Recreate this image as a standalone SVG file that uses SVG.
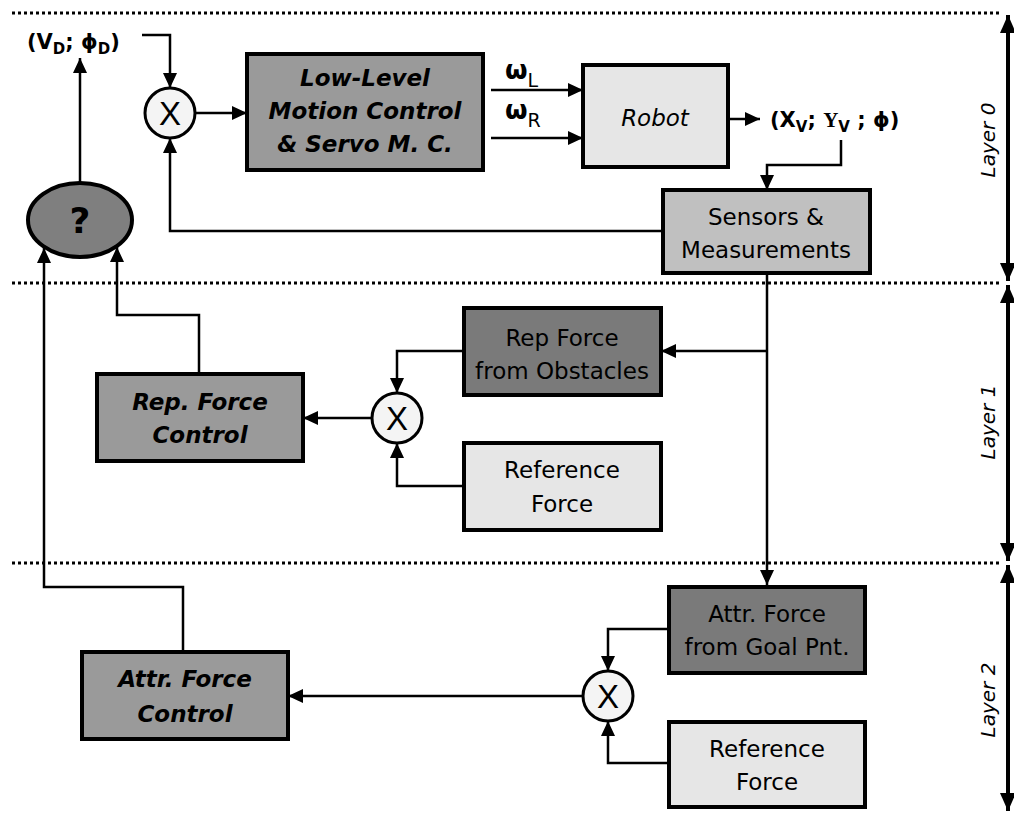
<svg xmlns="http://www.w3.org/2000/svg" width="1014" height="813" viewBox="0 0 1014 813">
<defs>
<marker id="ah" markerUnits="userSpaceOnUse" markerWidth="15" markerHeight="14" refX="15" refY="7" orient="auto">
<path d="M0,0 L15,7 L0,14 z" fill="#000"/>
</marker>
<marker id="ahb" markerUnits="userSpaceOnUse" markerWidth="18" markerHeight="16" refX="18" refY="8" orient="auto-start-reverse">
<path d="M0,0 L18,8 L0,16 z" fill="#000"/>
</marker>
<style>
.box{stroke:#000;stroke-width:4}
.dark{fill:#7a7a7a}
.mid{fill:#9a9a9a}
.light{fill:#e6e6e6}
.sens{fill:#c0c0c0}
.sum{fill:#f4f4f4;stroke:#000;stroke-width:3}
.c{fill:none;stroke:#000;stroke-width:2.5;marker-end:url(#ah)}
.dot{stroke:#000;stroke-width:3;stroke-dasharray:3 3}
.lay{stroke:#000;stroke-width:4;marker-start:url(#ahb);marker-end:url(#ahb)}
text{font-family:"DejaVu Sans","Liberation Sans",sans-serif;fill:#000}
.bi{font-weight:bold;font-style:italic;font-size:23px;text-anchor:middle}
.n{font-size:23px;text-anchor:middle}
.x{font-family:"Liberation Sans",sans-serif;font-size:33px;text-anchor:middle}
.lt{font-style:italic;font-size:20px;text-anchor:middle}
.b{font-weight:bold;font-size:21px}
</style>
</defs>

<g id="layers">
<line class="dot" x1="12" y1="13" x2="1002" y2="13"/>
<line class="dot" x1="12" y1="283" x2="1002" y2="283"/>
<line class="dot" x1="12" y1="563" x2="1002" y2="563"/>
<line class="lay" x1="1008" y1="15" x2="1008" y2="281"/>
<line class="lay" x1="1008" y1="285" x2="1008" y2="561"/>
<line class="lay" x1="1008" y1="565" x2="1008" y2="811"/>
<text class="lt" transform="translate(995,140) rotate(-90)">Layer 0</text>
<text class="lt" transform="translate(995,422) rotate(-90)">Layer 1</text>
<text class="lt" transform="translate(995,700) rotate(-90)">Layer 2</text>
</g>

<g id="connectors">
<path class="c" d="M80,182 L80,58"/>
<path class="c" d="M142,35 L170,35 L170,88"/>
<path class="c" d="M195,113 L247,113"/>
<path class="c" d="M491,90 L583,90"/>
<path class="c" d="M491,138 L583,138"/>
<path class="c" d="M728,119 L760,119"/>
<path class="c" d="M841,140 L841,165 L767,165 L767,190"/>
<path class="c" d="M663,231 L170,231 L170,138"/>
<path class="c" d="M767,273 L767,585"/>
<path class="c" d="M767,351 L661,351"/>
<path class="c" d="M464,351 L397,351 L397,393"/>
<path class="c" d="M464,486 L397,486 L397,443"/>
<path class="c" d="M372,418 L303,418"/>
<path class="c" d="M199,374 L199,315 L117,315 L117,247"/>
<path class="c" d="M183,652 L183,587 L44,587 L44,248"/>
<path class="c" d="M669,629 L608,629 L608,671"/>
<path class="c" d="M669,763 L608,763 L608,721"/>
<path class="c" d="M583,696 L288,696"/>
</g>

<g id="vd-label">
<text class="b" x="27" y="49">(V<tspan font-size="15" dy="5">D</tspan><tspan dy="-5">; ϕ</tspan><tspan font-size="15" dy="5">D</tspan><tspan dy="-5">)</tspan></text>
</g>

<g id="decision">
<ellipse cx="80" cy="220" rx="52" ry="37" fill="#7f7f7f" stroke="#000" stroke-width="4"/>
<text x="80" y="233" font-size="36" font-weight="bold" text-anchor="middle">?</text>
</g>

<g id="sum0">
<circle class="sum" cx="170" cy="113" r="25"/>
<text class="x" x="170" y="125">X</text>
</g>

<g id="llmc">
<rect class="box mid" x="247" y="54" width="236" height="116"/>
<text class="bi" x="365" y="86">Low-Level</text>
<text class="bi" x="365" y="119">Motion Control</text>
<text class="bi" x="365" y="152">&amp; Servo M. C.</text>
</g>

<g id="omega">
<text x="505" y="79" font-size="26" font-weight="bold">ω<tspan font-size="19" font-weight="normal" dy="8">L</tspan></text>
<text x="505" y="119" font-size="26" font-weight="bold">ω<tspan font-size="19" font-weight="normal" dy="8">R</tspan></text>
</g>

<g id="robot">
<rect class="box light" x="583" y="65" width="145" height="102"/>
<text class="n" x="655" y="126" font-style="italic">Robot</text>
</g>

<g id="xy-label">
<text class="b" x="770" y="127">(X<tspan font-size="15" dy="5">V</tspan><tspan dy="-5">; </tspan><tspan font-family="Liberation Serif,serif">Y</tspan><tspan font-size="15" dy="5">V</tspan><tspan dy="-5"> ; ϕ)</tspan></text>
</g>

<g id="sensors">
<rect class="box sens" x="663" y="190" width="207" height="83"/>
<text class="n" x="766" y="225">Sensors &amp;</text>
<text class="n" x="766" y="258">Measurements</text>
</g>

<g id="rep-obstacles">
<rect class="box dark" x="464" y="308" width="197" height="87"/>
<text class="n" x="562" y="346">Rep Force</text>
<text class="n" x="562" y="379">from Obstacles</text>
</g>

<g id="sum1">
<circle class="sum" cx="397" cy="418" r="25"/>
<text class="x" x="397" y="430">X</text>
</g>

<g id="ref-force-1">
<rect class="box light" x="464" y="443" width="197" height="87"/>
<text class="n" x="562" y="478">Reference</text>
<text class="n" x="562" y="512">Force</text>
</g>

<g id="rep-control">
<rect class="box mid" x="97" y="374" width="206" height="87"/>
<text class="bi" x="200" y="410">Rep. Force</text>
<text class="bi" x="200" y="443">Control</text>
</g>

<g id="attr-goal">
<rect class="box dark" x="669" y="587" width="196" height="86"/>
<text class="n" x="767" y="622">Attr. Force</text>
<text class="n" x="767" y="655">from Goal Pnt.</text>
</g>

<g id="sum2">
<circle class="sum" cx="608" cy="696" r="25"/>
<text class="x" x="608" y="708">X</text>
</g>

<g id="ref-force-2">
<rect class="box light" x="669" y="722" width="196" height="85"/>
<text class="n" x="767" y="757">Reference</text>
<text class="n" x="767" y="790">Force</text>
</g>

<g id="attr-control">
<rect class="box mid" x="82" y="652" width="206" height="87"/>
<text class="bi" x="185" y="687">Attr. Force</text>
<text class="bi" x="185" y="722">Control</text>
</g>
</svg>
